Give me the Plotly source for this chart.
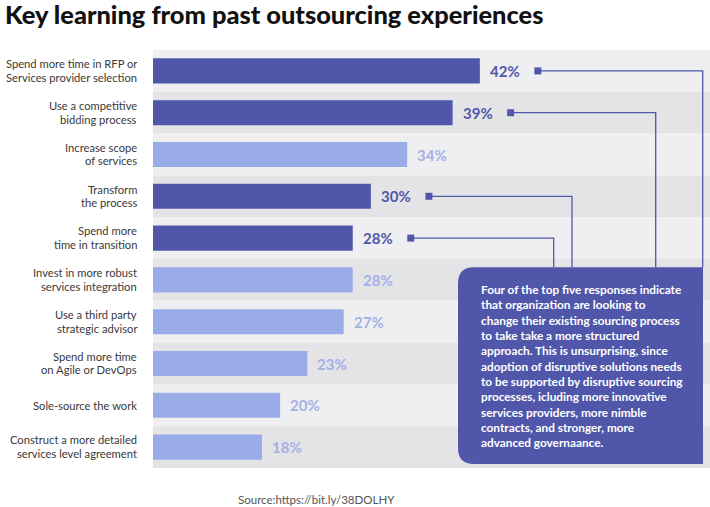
import plotly.graph_objects as go

# ---------------- data ----------------
categories = [
    "Spend more time in RFP or<br>Services provider selection",
    "Use a competitive<br>bidding process",
    "Increase scope<br>of services",
    "Transform<br>the process",
    "Spend more<br>time in transition",
    "Invest in more robust<br>services integration",
    "Use a third party<br>strategic advisor",
    "Spend more time<br>on Agile or DevOps",
    "Sole-source the work",
    "Construct a more detailed<br>services level agreement",
]
values = [42, 39, 34, 30, 28, 28, 27, 23, 20, 18]
highlighted = [True, True, False, True, True, False, False, False, False, False]

title_text = "Key learning from past outsourcing experiences"
source_text = "Source:https://bit.ly/38DOLHY"
note_lines = [
    "Four of the top five responses indicate",
    "that organization are looking to",
    "change their existing sourcing process",
    "to take take a more structured",
    "approach. This is unsurprising, since",
    "adoption of disruptive solutions needs",
    "to be supported by disruptive sourcing",
    "processes, icluding more innovative",
    "services providers, more nimble",
    "contracts, and stronger, more",
    "advanced governaance.",
]

# ---------------- styling / layout ----------------
W, H = 710, 507
PL, PR, PT, PB = 153, 710, 49.5, 468  # plot area in pixels
XMIN, XMAX = 6, 67.35
DARK = "#5057aa"
LIGHT = "#9aace8"
DARK_TXT = "#5057aa"
LIGHT_TXT = "#a3b0e8"
BAND_A = "#efeff1"
BAND_B = "#e4e4e6"
FONT = "Lato"

n = len(categories)
ppu = (PR - PL) / (XMAX - XMIN)


def px2x(px):
    return XMIN + (px - PL) / ppu


def py2y(py):
    return -0.5 + (py - PT) / ((PB - PT) / n)


def px2paper(px):
    return (px - PL) / (PR - PL)


def py2paper(py):
    return 1 - (py - PT) / (PB - PT)


ypos = list(range(n))
colors = [DARK if h else LIGHT for h in highlighted]

fig = go.Figure()
fig.add_trace(go.Bar(
    x=values, y=ypos, orientation="h", width=0.6,
    marker=dict(color=colors, line=dict(width=0)),
    hoverinfo="skip", showlegend=False,
))

shapes = []
# alternating row bands
for i in range(n):
    shapes.append(dict(
        type="rect", xref="paper", yref="y", x0=0, x1=1, y0=i - 0.5, y1=i + 0.5,
        fillcolor=BAND_A if i % 2 == 0 else BAND_B, line=dict(width=0), layer="below",
    ))

annotations = []
# category labels
for i, lab in enumerate(categories):
    lines = lab.split("<br>")
    shifts = [0] if len(lines) == 1 else [7.2, -6.4]
    for ln, sh in zip(lines, shifts):
        annotations.append(dict(
            text=ln, xref="paper", yref="y", x=0, y=i, xshift=-15, yshift=sh,
            xanchor="right", yanchor="middle", showarrow=False, borderpad=0,
            font=dict(family=FONT, size=11.2, color="#3a3a3a"),
        ))

# value labels
for i, (v, h) in enumerate(zip(values, highlighted)):
    annotations.append(dict(
        text=f"<b>{v}%</b>", xref="x", yref="y", x=v, y=i, xshift=8,
        xanchor="left", yanchor="middle", showarrow=False,
        font=dict(family=FONT, size=15, color=DARK_TXT if h else LIGHT_TXT),
    ))

# note box (rounded left corners)
bx0, bx1, by0, by1, r = 458, 703, 267, 464, 16
rx = r / ppu
ry = r / ((PB - PT) / n)
X0, X1, Y0, Y1 = px2x(bx0), px2x(bx1), py2y(by0), py2y(by1)
box_path = (
    f"M {X0 + rx},{Y0} L {X1},{Y0} L {X1},{Y1} L {X0 + rx},{Y1} "
    f"Q {X0},{Y1} {X0},{Y1 - ry} L {X0},{Y0 + ry} Q {X0},{Y0} {X0 + rx},{Y0} Z"
)

# connectors from highlighted bars to the box
vert_px = {0: 702.7, 1: 655.7, 3: 572, 4: 553.7}
marker_off = 58  # pixels after bar end
for i, vx in vert_px.items():
    mx = values[i] + marker_off / ppu
    shapes.append(dict(
        type="path", xref="x", yref="y",
        path=f"M {mx},{i} L {px2x(vx)},{i} L {px2x(vx)},{Y0}",
        line=dict(color=DARK, width=1.3),
    ))
    shapes.append(dict(
        type="rect", xref="x", yref="y", xsizemode="pixel", ysizemode="pixel",
        xanchor=mx, yanchor=i, x0=-3.5, x1=3.5, y0=-3.5, y1=3.5,
        fillcolor=DARK, line=dict(width=0),
    ))

shapes.append(dict(type="path", xref="x", yref="y", path=box_path,
                   fillcolor=DARK, line=dict(width=0)))

annotations.append(dict(
    text="<br>".join(note_lines), xref="paper", yref="paper",
    x=px2paper(479), y=py2paper(366), xanchor="left", yanchor="middle",
    align="left", showarrow=False,
    font=dict(family=FONT, size=11.8, color="white", weight="bold"),
))

# title and source
annotations.append(dict(
    text=title_text, xref="paper", yref="paper", x=px2paper(3), y=py2paper(13),
    xanchor="left", yanchor="middle", showarrow=False,
    font=dict(family=FONT, size=25.4, color="#111111", weight=900),
))
annotations.append(dict(
    text=source_text, xref="paper", yref="paper", x=px2paper(316), y=py2paper(500),
    xanchor="center", yanchor="middle", showarrow=False,
    font=dict(family=FONT, size=11.5, color="#555555"),
))

fig.update_layout(
    width=W, height=H,
    margin=dict(l=PL, r=W - PR, t=PT, b=H - PB, pad=0),
    paper_bgcolor="white", plot_bgcolor="white",
    xaxis=dict(range=[XMIN, XMAX], visible=False, fixedrange=True),
    yaxis=dict(range=[n - 0.5, -0.5], visible=False, fixedrange=True),
    shapes=shapes, annotations=annotations,
    bargap=0.4,
)

fig.write_html("out.html", config={"displayModeBar": False})
